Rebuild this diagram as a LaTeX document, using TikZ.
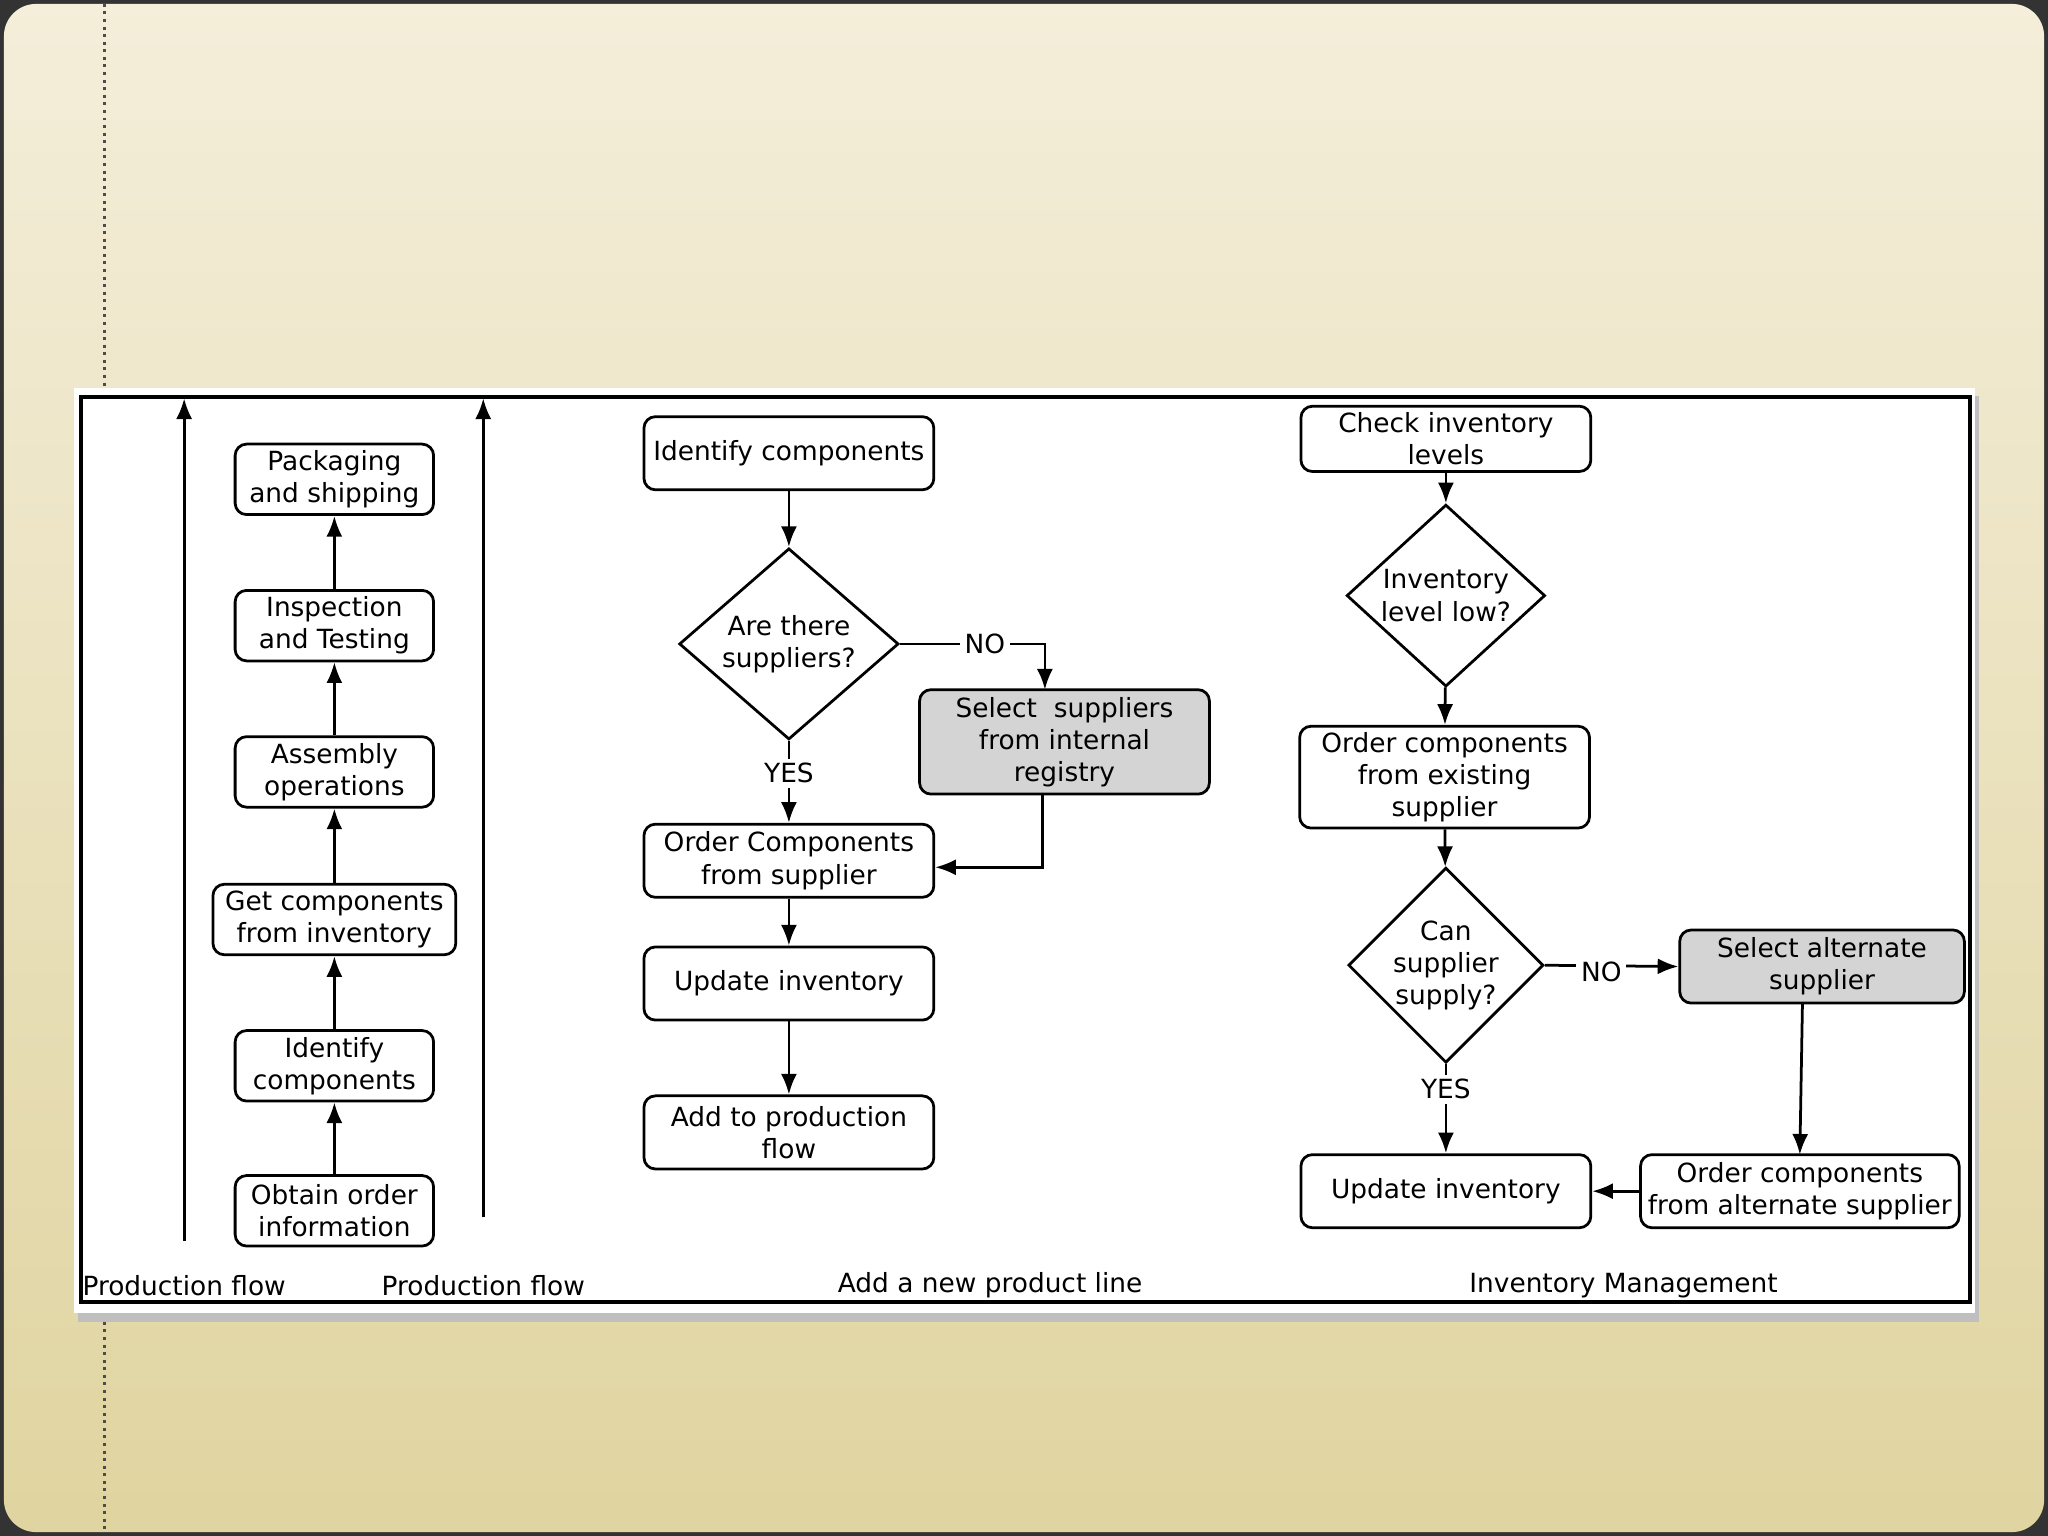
\documentclass[tikz,border=0pt]{standalone}
\usepackage{fontspec}
\setmainfont{DejaVu Sans}
\usetikzlibrary{shapes.geometric,arrows.meta}
\definecolor{bgtop}{RGB}{244,238,218}
\definecolor{bgmid}{RGB}{236,226,190}
\definecolor{bgbot}{RGB}{224,212,160}
\begin{document}
\begin{tikzpicture}[x=0.02cm,y=-0.02cm,
 box/.style={draw,line width=1.2pt,rounded corners=5pt,align=center,inner sep=1pt,font=\fontsize{11.5}{14}\selectfont},
 dia/.style={draw,line width=1.2pt,diamond,inner sep=0pt,align=center,font=\fontsize{11.5}{14}\selectfont},
 lab/.style={font=\fontsize{11.5}{14}\selectfont,fill=white,inner sep=2pt},
 arr/.style={line width=1.2pt,-{Latex[length=9pt,width=7pt]}},
 ln/.style={line width=1.2pt}]
\useasboundingbox (0,0) rectangle (1568,1176);
\fill[black!80] (0,0) rectangle (1568,1176);
\shade[top color=bgtop, middle color=bgmid, bottom color=bgbot, rounded corners=14pt] (3,3) rectangle (1565,1173);
\fill[black!25] (60,303) rectangle (1515,1012);
\fill[white] (57,297) rectangle (1512,1005);
\draw[line width=1.8pt] (62,304) rectangle (1508,997);
\draw[dotted,line width=1.3pt,black!70] (80,3) -- (80,297);
\draw[dotted,line width=1.3pt,black!70] (80,1012) -- (80,1173);
% left column
\node[box,minimum width=3.04cm,minimum height=1.08cm] (p1) at (256,367) {Packaging\\and shipping};
\node[box,minimum width=3.04cm,minimum height=1.08cm] (p2) at (256,479) {Inspection\\and Testing};
\node[box,minimum width=3.04cm,minimum height=1.08cm] (p3) at (256,591) {Assembly\\operations};
\node[box,minimum width=3.72cm,minimum height=1.08cm] (p4) at (256,704) {Get components\\from inventory};
\node[box,minimum width=3.04cm,minimum height=1.08cm] (p5) at (256,816) {Identify\\components};
\node[box,minimum width=3.04cm,minimum height=1.08cm] (p6) at (256,927) {Obtain order\\information};
\draw[arr] (p6) -- (p5); \draw[arr] (p5) -- (p4); \draw[arr] (p4) -- (p3);
\draw[arr] (p3) -- (p2); \draw[arr] (p2) -- (p1);
\coordinate (a1s) at (141,950); \coordinate (a1e) at (141,305);
\coordinate (a2s) at (370,932); \coordinate (a2e) at (370,305);
\draw[arr] (a1s) -- (a1e); \draw[arr] (a2s) -- (a2e);
\node[font=\fontsize{11.5}{14}\selectfont] (t1) at (141,984) {Production flow};
\node[font=\fontsize{11.5}{14}\selectfont] (t2) at (370,984) {Production flow};
\node[font=\fontsize{11.5}{14}\selectfont] (t3) at (758,984) {Add a new product line};
\node[font=\fontsize{11.5}{14}\selectfont] (t4) at (1243,984) {Inventory Management};
% middle
\node[box,minimum width=4.44cm,minimum height=1.12cm] (m1) at (604,347) {Identify components};
\node[dia,minimum width=3.36cm,minimum height=2.84cm] (m2) at (604,493) {Are there\\suppliers?};
\node[box,fill=black!17,minimum width=4.44cm,minimum height=1.6cm] (m3) at (815,568) {Select~ suppliers\\from internal\\registry};
\node[box,minimum width=4.44cm,minimum height=1.12cm] (m4) at (604,659) {Order Components\\from supplier};
\node[box,minimum width=4.44cm,minimum height=1.12cm] (m5) at (604,753) {Update inventory};
\node[box,minimum width=4.44cm,minimum height=1.12cm] (m6) at (604,867) {Add to production\\flow};
\draw[arr] (m1) -- (m2);
\draw[arr] (m2.east) -- (800,493) -- (800,528);
\node[lab] at (754,493) {NO};
\draw[arr] (m2.south) -- (m4.north);
\node[lab] at (604,592) {YES};
\draw[arr] (798,608) -- (798,664) -- (716,664);
\draw[arr] (m4) -- (m5); \draw[arr] (m5) -- (m6);
% right
\node[box,minimum width=4.44cm,minimum height=1.0cm] (r1) at (1107,336) {Check inventory\\levels};
\node[dia,minimum width=3.04cm,minimum height=2.48cm] (r2) at (1107,456) {Inventory\\level low?};
\node[box,minimum width=4.44cm,minimum height=1.56cm] (r3) at (1106,595) {Order components\\from existing\\supplier};
\node[dia,minimum width=2.84cm,minimum height=2.84cm] (r4) at (1107,739) {Can\\supplier\\supply?};
\node[box,fill=black!17,minimum width=4.36cm,minimum height=1.12cm] (r5) at (1395,740) {Select alternate\\supplier};
\node[box,minimum width=4.88cm,minimum height=1.12cm] (r6) at (1378,912) {Order components\\from alternate supplier};
\node[box,minimum width=4.44cm,minimum height=1.12cm] (r7) at (1107,912) {Update inventory};
\draw[arr] (r1) -- (r2); \draw[arr] (r2) -- (r3); \draw[arr] (r3) -- (r4);
\draw[arr] (r4.east) -- (r5.west);
\node[lab] at (1226,744) {NO};
\draw[arr] (r4.south) -- (r7.north);
\node[lab] at (1107,834) {YES};
\draw[arr] (1380,768) -- (1378,884);
\draw[arr] (r6) -- (r7);
\end{tikzpicture}
\end{document}
